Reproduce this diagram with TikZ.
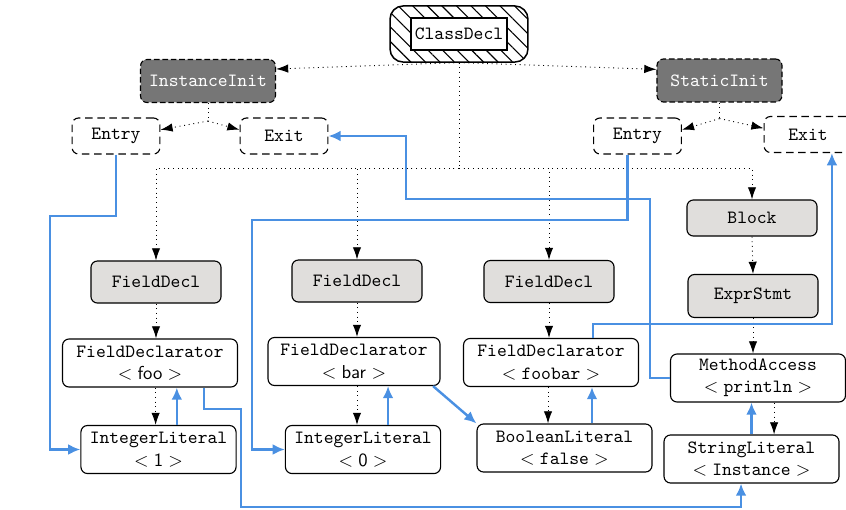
\documentclass[tikz,border=0pt]{standalone}
\usetikzlibrary{positioning,arrows.meta,patterns.meta}
\definecolor{flowblue}{RGB}{74,144,226}
\definecolor{astgray}{RGB}{224,222,220}
\definecolor{initgray}{RGB}{118,118,118}

\begin{document}
\begin{tikzpicture}[x=0.535pt,y=-0.535pt,
    every node/.style={font=\ttfamily,rounded corners=3.5pt,line width=0.6pt,align=center,inner sep=2pt},
    ast/.style={draw,fill=astgray,minimum width=69.6pt,minimum height=22.5pt},
    leaf/.style={draw,fill=white,minimum width=93.6pt,minimum height=25.7pt},
    init/.style={draw,dash pattern=on 3pt off 1.5pt,fill=initgray,text=white,minimum height=23pt},
    port/.style={draw,dash pattern=on 4pt off 2.5pt,minimum width=47pt,minimum height=19.3pt},
    tree/.style={dotted,line width=0.5pt,-{Latex[length=6.5pt,width=4.5pt]}},
    flow/.style={flowblue,line width=1.3pt,-{Latex[length=6.5pt,width=5.8pt]}}]
    \useasboundingbox (0,0) rectangle (846,509);

    \node[draw,line width=0.8pt,rounded corners=7pt,pattern={Lines[angle=-45,distance=5.5pt,line width=0.6pt]},
          minimum width=73.8pt,minimum height=30pt] (cdo) at (459,34) {};
    \node[draw,fill=white,sharp corners,minimum width=51.4pt,minimum height=17.1pt] (cd) at (459,34) {ClassDecl};

    \node[init,minimum width=72.2pt] (ii) at (208,81) {InstanceInit};
    \node[init,minimum width=66.9pt] (si) at (719.5,80.5) {StaticInit};
    \node[port] (en1) at (116,136) {Entry};
    \node[port] (ex1) at (284,136) {Exit};
    \node[port] (en2) at (637.5,136) {Entry};
    \node[port] (ex2) at (808,134.5) {Exit};

    \node[ast] (fd1) at (156,282) {FieldDecl};
    \node[ast] (fd2) at (357,281) {FieldDecl};
    \node[ast] (fd3) at (549,281.5) {FieldDecl};
    \node[ast,minimum height=19.3pt] (blk) at (752,218) {Block};
    \node[ast,minimum height=23pt] (es) at (753,296) {ExprStmt};

    \node[leaf] (fdr1) at (150,363) {FieldDeclarator\\$<\mathsf{foo}>$};
    \node[leaf,minimum width=92pt] (fdr2) at (354,361.5) {FieldDeclarator\\$<\mathsf{bar}>$};
    \node[leaf] (fdr3) at (551,362.5) {FieldDeclarator\\$<\mathtt{foobar}>$};
    \node[leaf] (ma) at (758,378) {MethodAccess\\$<\mathtt{println}>$};
    \node[leaf,minimum width=83pt] (il1) at (158.5,449.5) {IntegerLiteral\\$<\mathsf{1}>$};
    \node[leaf,minimum width=83pt] (il2) at (363,449.5) {IntegerLiteral\\$<\mathsf{0}>$};
    \node[leaf] (bl) at (564.5,448) {BooleanLiteral\\$<\mathtt{false}>$};
    \node[leaf] (sl) at (751.5,459) {StringLiteral\\$<\mathtt{Instance}>$};

    \draw[tree] (cdo.south) -- (ii.10);
    \draw[tree] (cdo.south) -- (si.170);
    \draw[dotted,line width=0.5pt] (cdo.south) -- ++(0,106) coordinate (hub);
    \draw[tree] (hub) -| (fd1.north);
    \draw[tree] (hub) -| (fd2.north);
    \draw[tree] (hub) -| (fd3.north);
    \draw[tree] (hub) -| (blk.north);

    \draw[dotted,line width=0.5pt] (ii.south) -- ++(0,18) coordinate (iif);
    \draw[tree] (iif) -- (en1.8);
    \draw[tree] (iif) -- (ex1.172);
    \draw[dotted,line width=0.5pt] (si.south) -- ++(0,16) coordinate (sif);
    \draw[tree] (sif) -- (en2.8);
    \draw[tree] (sif) -- (ex2.172);

    \draw[tree] (fd1.south) -- (fd1.south |- fdr1.north);
    \draw[tree] (fd2.south) -- (fd2.south |- fdr2.north);
    \draw[tree] (fd3.south) -- (fd3.south |- fdr3.north);
    \draw[tree] (blk.south) -- (es.north);
    \draw[tree] (es.south) -- (es.south |- ma.north);
    \draw[tree] ([xshift=3pt]fdr1.south) -- ([xshift=3pt]fdr1.south |- il1.north);
    \draw[tree] ([xshift=1.6pt]fdr2.south) -- ([xshift=1.6pt]fdr2.south |- il2.north);
    \draw[tree] ([xshift=-1.6pt]fdr3.south) -- ([xshift=-1.6pt]fdr3.south |- bl.north);
    \draw[tree] ([xshift=8.6pt]ma.south) -- ([xshift=8.6pt]ma.south |- sl.north);

    \draw[flow] ([xshift=9.8pt]il1.north) -- ([xshift=9.8pt]il1.north |- fdr1.south);
    \draw[flow] ([xshift=13.4pt]il2.north) -- ([xshift=13.4pt]il2.north |- fdr2.south);
    \draw[flow] ([xshift=14.7pt]bl.north) -- ([xshift=14.7pt]bl.north |- fdr3.south);
    \draw[flow] (sl.north) -- (sl.north |- ma.south);

    \draw[flow] (en1.south) |- (50,216) |- (il1.west);
    \draw[flow] ([xshift=-5.4pt]en2.south) |- (252,220) |- (il2.west);
    \draw[flow] ([xshift=29pt]fdr1.south) |- (241,409) -- (241,507) -| ([xshift=-5.6pt]sl.south);
    \draw[flow] ([xshift=-4pt]fdr2.south east) -- (bl.north west);
    \draw[flow] ([xshift=22.5pt]fdr3.north) -- ++(0,-14) -| ([xshift=12.8pt]ex2.south);
    \draw[flow] (ma.west) -| (650,199) -- (406,199) |- (ex1.east);
\end{tikzpicture}
\end{document}
